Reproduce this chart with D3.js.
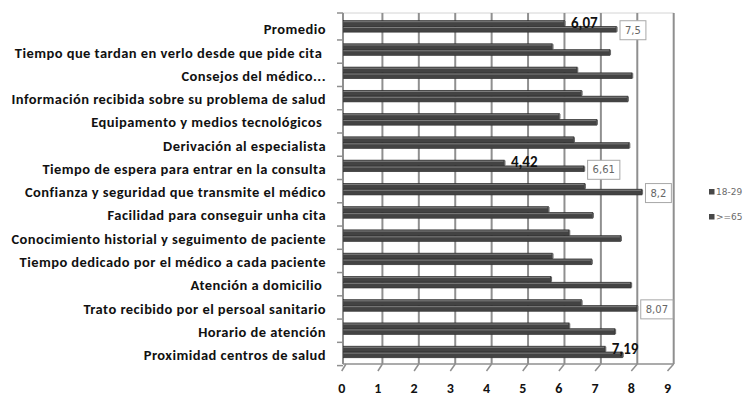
<!DOCTYPE html>
<html>
<head>
<meta charset="utf-8">
<script src="https://cdn.jsdelivr.net/npm/d3@7"></script>
<style>
  html, body { margin: 0; padding: 0; background: #fff; }
  svg { display: block; }
  .cat { font-family: Carlito, Lato, "Open Sans", sans-serif; font-weight: 700; font-size: 14.5px; letter-spacing: 0.45px; fill: #111; white-space: pre; }
  .tick-x { font-family: Carlito, Lato, sans-serif; font-weight: 700; font-size: 14px; fill: #111; }
  .val { font-family: Carlito, Lato, sans-serif; font-weight: 700; font-size: 15px; fill: #111; }
  .boxval { font-family: "DejaVu Sans", sans-serif; font-size: 10px; fill: #666; }
  .leg { font-family: "DejaVu Sans", sans-serif; font-size: 9px; fill: #6a6a6a; }
</style>
</head>
<body>
<svg id="chart" width="748" height="397"></svg>
<script>
// Satisfaction items (top to bottom)
const categories = [
  "Promedio",
  "Tiempo que tardan en verlo desde que pide cita ",
  "Consejos del médico...",
  "Información recibida sobre su problema de salud",
  "Equipamento y medios tecnológicos ",
  "Derivación al especialista",
  "Tiempo de espera para entrar en la consulta",
  "Confianza y seguridad que transmite el médico",
  "Facilidad para conseguir unha cita",
  "Conocimiento historial y seguimento de paciente",
  "Tiempo dedicado por el médico a cada paciente",
  "Atención a domicilio ",
  "Trato recibido por el persoal sanitario",
  "Horario de atención",
  "Proximidad centros de salud"
];

const seriesNames = ["18-29", ">=65"];

// Mean score, age group 18-29
const values1829 = [6.07, 5.74, 6.42, 6.54, 5.93, 6.33, 4.42, 6.63, 5.63, 6.20, 5.74, 5.70, 6.54, 6.20, 7.19];
// Mean score, age group >=65
const values65 = [7.5, 7.32, 7.93, 7.81, 6.96, 7.85, 6.61, 8.2, 6.85, 7.62, 6.82, 7.90, 8.07, 7.46, 7.67];

// Bars that carry a value label
const labeled1829 = ["Promedio", "Tiempo de espera para entrar en la consulta", "Proximidad centros de salud"];
const labeled65 = ["Promedio", "Tiempo de espera para entrar en la consulta", "Confianza y seguridad que transmite el médico", "Trato recibido por el persoal sanitario"];

const xTicks = [0, 1, 2, 3, 4, 5, 6, 7, 8, 9];

const svg = d3.select("#chart");
const fmt = v => String(v).replace(".", ",");

// Scales: bars sit mid-depth; gridlines on the back wall; tick labels on the front edge
const x = d3.scaleLinear().domain([0, 9]).range([343.5, 671.1]);
const xBack = d3.scaleLinear().domain([0, 9]).range([346, 673.7]);
const xFront = d3.scaleLinear().domain([0, 9]).range([341.7, 667.5]);

const y = d3.scaleBand().domain(categories).range([17.7, 366.6]).paddingInner(0.5).paddingOuter(0.25);
const ySeries = d3.scaleBand().domain(seriesNames).range([0, y.bandwidth()]);
const lift = 3; // depth shift of the bars
const cy = c => y(c) + y.bandwidth() / 2;

const wallTop = 13, floorY = 364;
const grid = "#8f8f8f";

// back wall top edge
svg.append("line").attr("x1", 343).attr("x2", xBack(9)).attr("y1", wallTop).attr("y2", wallTop)
  .attr("stroke", "#d4d4d4").attr("stroke-width", 1);

// back wall gridlines
svg.append("g").selectAll("line").data(xTicks.slice(1)).join("line")
  .attr("x1", d => xBack(d)).attr("x2", d => xBack(d))
  .attr("y1", wallTop).attr("y2", floorY)
  .attr("stroke", grid).attr("stroke-width", 2);

// floor
svg.append("line").attr("x1", 343).attr("x2", xBack(9)).attr("y1", floorY).attr("y2", floorY)
  .attr("stroke", grid).attr("stroke-width", 1.5);
svg.append("g").selectAll("line").data(xTicks).join("line")
  .attr("x1", d => xFront(d)).attr("y1", floorY + 7)
  .attr("x2", d => xBack(d)).attr("y2", floorY)
  .attr("stroke", grid).attr("stroke-width", 1.5);

// left wall / category axis
svg.append("line").attr("x1", 343).attr("x2", 343).attr("y1", wallTop).attr("y2", floorY)
  .attr("stroke", grid).attr("stroke-width", 2);
const step = y.step();
const tickYs = [wallTop].concat(categories.map(c => cy(c) + step / 2 - 1));
svg.append("g").selectAll("line").data(tickYs).join("line")
  .attr("x1", 337).attr("x2", 343).attr("y1", d => d).attr("y2", d => d)
  .attr("stroke", grid).attr("stroke-width", 1.5);

// bars
const barData = [];
categories.forEach((c, i) => {
  barData.push({ c, s: seriesNames[0], v: values1829[i] });
  barData.push({ c, s: seriesNames[1], v: values65[i] });
});
const bars = svg.append("g").selectAll("g").data(barData).join("g");
bars.append("rect")
  .attr("x", x(0))
  .attr("y", d => y(d.c) + ySeries(d.s) - lift)
  .attr("width", d => x(d.v) - x(0))
  .attr("height", ySeries.bandwidth())
  .attr("fill", "#434343")
  .attr("stroke", "#2e2e2e").attr("stroke-width", 0.6);
// lit top face
bars.append("line")
  .attr("x1", x(0)).attr("x2", d => x(d.v) - 1)
  .attr("y1", d => y(d.c) + ySeries(d.s) - lift + 1.2)
  .attr("y2", d => y(d.c) + ySeries(d.s) - lift + 1.2)
  .attr("stroke", "#7d7d7d").attr("stroke-width", 1);
// end face
bars.append("line")
  .attr("x1", d => x(d.v) + 0.5).attr("x2", d => x(d.v) + 0.5)
  .attr("y1", d => y(d.c) + ySeries(d.s) - lift + 0.5)
  .attr("y2", d => y(d.c) + ySeries(d.s) - lift + ySeries.bandwidth() - 0.5)
  .attr("stroke", "#6a6a6a").attr("stroke-width", 1.2);

// category labels
svg.append("g").selectAll("text").data(categories).join("text")
  .attr("class", "cat")
  .attr("x", 326).attr("y", d => cy(d)).attr("dy", "0.35em")
  .attr("text-anchor", "end")
  .text(d => d);

// x tick labels
svg.append("g").selectAll("text").data(xTicks).join("text")
  .attr("class", "tick-x")
  .attr("x", d => xFront(d)).attr("y", 392.5)
  .attr("text-anchor", "middle")
  .text(d => d);

// plain value labels (18-29)
svg.append("g").selectAll("text").data(labeled1829).join("text")
  .attr("class", "val")
  .attr("x", c => x(values1829[categories.indexOf(c)]) + 6.5)
  .attr("y", c => y(c) + ySeries(seriesNames[0]) - lift + ySeries.bandwidth() / 2)
  .attr("dy", "0.3em")
  .text(c => fmt(values1829[categories.indexOf(c)]));

// boxed value labels (>=65)
const boxes = svg.append("g").selectAll("g").data(labeled65).join("g");
boxes.each(function (c) {
  const g = d3.select(this);
  const v = values65[categories.indexOf(c)];
  const midY = y(c) + ySeries(seriesNames[1]) - lift + ySeries.bandwidth() / 2 + 1;
  const left = x(v) + 3.5;
  const t = g.append("text").attr("class", "boxval")
    .attr("y", midY).attr("dy", "0.35em").text(fmt(v));
  const w = t.node().getComputedTextLength();
  const bw = w + 10, bh = 19;
  g.insert("rect", "text")
    .attr("x", left).attr("y", midY - bh / 2)
    .attr("width", bw).attr("height", bh)
    .attr("fill", "#fff").attr("stroke", "#a8a8a8").attr("stroke-width", 1);
  t.attr("x", left + 5);
});

// legend
const leg = svg.append("g").selectAll("g").data(seriesNames).join("g")
  .attr("transform", (d, i) => `translate(709, ${189 + i * 25})`);
leg.append("rect").attr("width", 5.5).attr("height", 5.5).attr("fill", "#474747");
leg.append("text").attr("class", "leg").attr("x", 7).attr("y", 2.8).attr("dy", "0.35em").text(d => d);
</script>
</body>
</html>
